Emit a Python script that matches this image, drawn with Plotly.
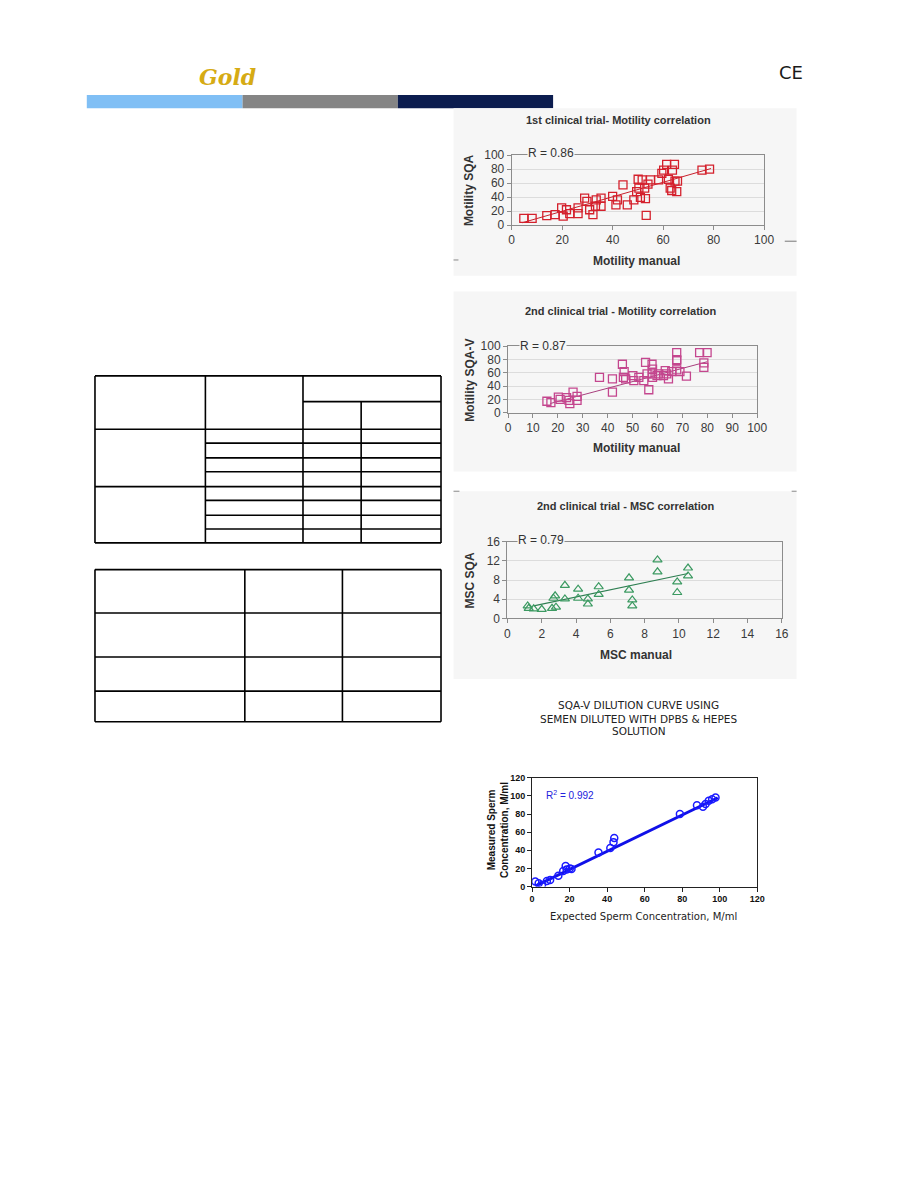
import plotly.graph_objects as go

W, H = 918, 1188

def fx(px):
    return px / W

def fy(py):
    return 1 - py / H

# ---------------- data ----------------
# Chart 1: 1st clinical trial - Motility correlation
c1_manual = [4.8, 8.1, 13.9, 17.2, 19.8, 20.4, 21.7, 23.0, 26.3, 26.3, 28.9, 29.8, 30.9, 32.2,
             33.2, 33.5, 35.4, 35.4, 40.0, 41.3, 41.9, 44.1, 45.8, 48.4, 49.5, 50.1, 50.4, 51.0,
             51.7, 52.7, 53.0, 53.3, 54.0, 55.0, 58.2, 59.5, 60.2, 61.4, 62.1, 62.8, 63.4, 63.7,
             64.5, 64.7, 65.4, 65.7, 75.4, 78.4]
c1_sqa = [9.5, 9.5, 13.7, 15, 24.6, 12.7, 22, 16.5, 24.6, 16.5, 38.7, 34, 22, 15,
          27, 36, 38.7, 27, 41, 29, 36, 57.6, 29, 36, 48, 65.6, 53, 39.6,
          64.6, 53, 37.8, 14, 58.5, 64.6, 64.6, 74, 78.8, 87, 65.6, 53, 49.5, 78.8,
          87, 63, 48, 63, 78.8, 80]
c1_trend_x = [4.2, 79.0]
c1_trend_y = [3.4, 81.0]

# Chart 2: 2nd clinical trial - Motility correlation
c2_manual = [15.6, 17.2, 20.2, 20.9, 23.5, 24.5, 24.8, 26.1, 27.7, 27.7, 36.7, 41.9, 41.9, 45.9,
             46.6, 46.3, 47.2, 50.1, 50.5, 52.5, 54.5, 55.2, 55.8, 56.5, 57.8, 58.0, 58.0, 57.8,
             59.8, 60.4, 62.4, 63.1, 63.7, 64.4, 65.7, 67.7, 67.7, 67.7, 67.7, 69.0, 71.6, 76.9,
             79.9, 78.6, 78.6]
c2_sqa = [17.4, 15.4, 23.7, 20.3, 22.8, 18.8, 14, 31, 24.8, 18.8, 53.4, 51, 31, 73,
          61.9, 53.4, 51, 56, 48.5, 53.4, 48.5, 75.7, 58.5, 34.7, 73, 65.6, 53.4, 58.5,
          56, 58.5, 56, 63.4, 58.5, 51, 61.9, 90.5, 80, 78.4, 64.4, 61.9, 55, 90.5,
          90.5, 68.2, 75]
c2_trend_x = [16.9, 79.9]
c2_trend_y = [14.0, 76.7]

# Chart 3: 2nd clinical trial - MSC correlation
c3_manual = [1.18, 1.24, 1.53, 2.0, 2.6, 2.68, 2.78, 2.83, 3.35, 3.35, 4.12, 4.12, 4.69, 4.69,
             5.32, 5.32, 7.09, 7.09, 7.28, 7.28, 8.75, 8.75, 9.9, 9.9, 10.53, 10.53]
c3_sqa = [2.6, 2.1, 2.0, 1.9, 2.1, 4.2, 4.7, 2.35, 6.9, 4.05, 6.1, 4.2, 4.05, 3.0,
          6.6, 5.0, 8.45, 5.9, 3.85, 2.6, 12.2, 9.7, 7.6, 5.4, 10.5, 8.85]
c3_trend_x = [1.53, 10.53]
c3_trend_y = [2.6, 9.35]

# Chart 4: SQA-V dilution curve
c4_expected = [1.7, 3.5, 5.3, 7.9, 9.6, 14.0, 16.6, 17.9, 18.4, 20.1, 21.0, 35.4, 41.7, 43.4,
               43.8, 78.8, 87.9, 91.1, 92.5, 94.2, 96.0, 97.8]
c4_measured = [5.5, 3.6, 1.8, 6.2, 7.3, 12.0, 17.1, 22.6, 18.9, 20.0, 19.3, 37.5, 42.5, 49.0,
               53.5, 80.0, 89.8, 88.0, 91.0, 94.6, 96.4, 98.2]
c4_trend_x = [1.7, 99.0]
c4_trend_y = [0.5, 98.0]

motility_ticks = [0, 20, 40, 60, 80, 100]
motility_ticks2 = [0, 10, 20, 30, 40, 50, 60, 70, 80, 90, 100]
msc_ticks = [0, 2, 4, 6, 8, 10, 12, 14, 16]
msc_yticks = [0, 4, 8, 12, 16]
conc_ticks = [0, 20, 40, 60, 80, 100, 120]

# ---------------- figure ----------------
fig = go.Figure()

# plot areas in page pixels: (left, right, top, bottom)
areas = {
    1: (516, 772, 150.0, 220.7),
    2: (512.3, 765, 343.3, 410.7),
    3: (511.7, 790, 541, 618.7),
    4: (536.7, 765, 780, 890),
}

def ax_names(i):
    return ("xaxis" if i == 1 else f"xaxis{i}", "yaxis" if i == 1 else f"yaxis{i}",
            "x" if i == 1 else f"x{i}", "y" if i == 1 else f"y{i}")

tickfont = dict(family="Liberation Sans, Arial, sans-serif", size=12, color="#3a3a3a")

def style_axes(i, xr, yr, xt, yt, grid=True, dark=False, tf=tickfont):
    xa, ya, xref, yref = ax_names(i)
    l, r, t, b = areas[i]
    lc = "#222222" if dark else "#8c8c8c"
    fig.update_layout(**{
        xa: dict(domain=[fx(l), fx(r)], range=xr, tickvals=xt, anchor=yref,
                 showline=True, mirror=True, linecolor=lc, linewidth=1,
                 ticks="outside", ticklen=4, tickcolor=lc, showgrid=False,
                 zeroline=False, tickfont=tf, fixedrange=True),
        ya: dict(domain=[fy(b), fy(t)], range=yr, tickvals=yt, anchor=xref,
                 showline=True, mirror=True, linecolor=lc, linewidth=1,
                 ticks="outside", ticklen=4, tickcolor=lc, showgrid=grid,
                 gridcolor="#dcdcdc", gridwidth=1,
                 zeroline=False, tickfont=tf, fixedrange=True),
    })

# chart 1
fig.add_trace(go.Scatter(x=c1_trend_x, y=c1_trend_y, mode="lines",
                         line=dict(color="#c8202c", width=1), xaxis="x", yaxis="y"))
fig.add_trace(go.Scatter(x=c1_manual, y=c1_sqa, mode="markers",
                         marker=dict(symbol="square-open", size=8, color="#d4202c",
                                     line=dict(width=1.3, color="#d4202c")),
                         xaxis="x", yaxis="y"))
style_axes(1, [0, 100], [0, 100], motility_ticks, motility_ticks)

# chart 2
fig.add_trace(go.Scatter(x=c2_trend_x, y=c2_trend_y, mode="lines",
                         line=dict(color="#a8407e", width=1), xaxis="x2", yaxis="y2"))
fig.add_trace(go.Scatter(x=c2_manual, y=c2_sqa, mode="markers",
                         marker=dict(symbol="square-open", size=8, color="#c4468e",
                                     line=dict(width=1.3, color="#c4468e")),
                         xaxis="x2", yaxis="y2"))
style_axes(2, [0, 100], [0, 100], motility_ticks2, motility_ticks)

# chart 3
fig.add_trace(go.Scatter(x=c3_trend_x, y=c3_trend_y, mode="lines",
                         line=dict(color="#2f7f52", width=1.2), xaxis="x3", yaxis="y3"))
fig.add_trace(go.Scatter(x=c3_manual, y=c3_sqa, mode="markers",
                         marker=dict(symbol="triangle-up-open", size=8, color="#3c9a62",
                                     line=dict(width=1.2, color="#3c9a62")),
                         xaxis="x3", yaxis="y3"))
style_axes(3, [0, 16], [0, 16], msc_ticks, msc_yticks)

# chart 4
fig.add_trace(go.Scatter(x=c4_trend_x, y=c4_trend_y, mode="lines",
                         line=dict(color="#1010e8", width=3), xaxis="x4", yaxis="y4"))
fig.add_trace(go.Scatter(x=c4_expected, y=c4_measured, mode="markers",
                         marker=dict(symbol="circle-open", size=7, color="#1a1aff",
                                     line=dict(width=1.5, color="#1a1aff")),
                         xaxis="x4", yaxis="y4"))
style_axes(4, [0, 120], [0, 120], conc_ticks, conc_ticks, grid=False, dark=True,
           tf=dict(family="Liberation Sans, Arial, sans-serif", size=9, color="#111111",
                   weight="bold"))

# ---------------- shapes ----------------
shapes = []

def rect(x0, y0, x1, y1, fill, layer="below", line=None):
    shapes.append(dict(type="rect", xref="paper", yref="paper",
                       x0=fx(x0), x1=fx(x1), y0=fy(y1), y1=fy(y0),
                       fillcolor=fill, line=line or dict(width=0), layer=layer))

def hline(x0, x1, y, w=1.6, color="#000000"):
    shapes.append(dict(type="line", xref="paper", yref="paper",
                       x0=fx(x0), x1=fx(x1), y0=fy(y), y1=fy(y),
                       line=dict(color=color, width=w), layer="above"))

def vline(x, y0, y1, w=1.6, color="#000000"):
    shapes.append(dict(type="line", xref="paper", yref="paper",
                       x0=fx(x), x1=fx(x), y0=fy(y0), y1=fy(y1),
                       line=dict(color=color, width=w), layer="above"))

# header bars
rect(85, 89, 243, 102.5, "#80bff5")
rect(243, 89, 400.5, 102.5, "#858585")
rect(400.5, 89, 558, 102.5, "#0c1d4f")

# chart image panels (light gray screenshots)
panel_bg = "#f6f6f6"
rect(457, 102.5, 805, 272, panel_bg)
rect(457, 288, 805, 470, panel_bg)
rect(457, 490, 805, 680, panel_bg)

# small stray marks at the panel edges
hline(793, 805, 237, w=1, color="#777777")
hline(457, 462, 256, w=1, color="#888888")
hline(457, 463, 490, w=1, color="#888888")
hline(800, 805, 490, w=1, color="#888888")

# table 1
T1L, T1R, T1T, T1B = 93.3, 444.3, 373.3, 542.3
c1x, c2x, c3x = 205.3, 304.3, 363.3
hline(T1L, T1R, T1T)
hline(T1L, T1R, T1B)
vline(T1L, T1T, T1B)
vline(T1R, T1T, T1B)
vline(c1x, T1T, T1B)
vline(c2x, T1T, T1B)
hline(c2x, T1R, 399.3)
vline(c3x, 399.3, T1B)
hline(T1L, T1R, 427.3)
for yy in [441.3, 456.3, 470.3, 499.3, 514.3, 528.3]:
    hline(c1x, T1R, yy)
hline(T1L, T1R, 485.3)

# table 2
T2L, T2R, T2T, T2B = 93.3, 444.3, 569.3, 723.3
hline(T2L, T2R, T2T)
hline(T2L, T2R, T2B)
vline(T2L, T2T, T2B)
vline(T2R, T2T, T2B)
vline(245.3, T2T, T2B)
vline(344.3, T2T, T2B)
for yy in [613.3, 657.7, 692.3]:
    hline(T2L, T2R, yy)

fig.update_layout(shapes=shapes)

# ---------------- annotations ----------------
ann = []

def text(px, py, s, size=12, color="#222222", bold=False, family="Liberation Sans, Arial, sans-serif",
         angle=0, xanchor="center", bg=None, italic=False):
    f = dict(family=family, size=size, color=color)
    if bold:
        f["weight"] = "bold"
    if italic:
        f["style"] = "italic"
    a = dict(x=fx(px), y=fy(py), xref="paper", yref="paper", text=s, showarrow=False,
             font=f, textangle=angle, xanchor=xanchor, yanchor="middle")
    if bg:
        a["bgcolor"] = bg
        a["borderpad"] = 0
    ann.append(a)

# header
text(228, 71, "Gold", size=22, color="#d6ab14", family="DejaVu Serif", bold=True, italic=True)
text(799, 66, "CE", size=18, color="#1a1a1a", family="DejaVu Sans", xanchor="center")

# chart 1
text(624, 114, "1st clinical trial- Motility correlation", size=11, bold=True, color="#333333")
text(556, 148, "R = 0.86", size=12, color="#333333", bg=panel_bg)
text(473, 185, "Motility SQA", size=12, bold=True, angle=-90, color="#333333")
text(643, 257, "Motility manual", size=12, bold=True, color="#333333")

# chart 2
text(627, 308, "2nd clinical trial - Motility correlation", size=11, bold=True, color="#333333")
text(548, 343, "R = 0.87", size=12, color="#333333", bg=panel_bg)
text(473, 378, "Motility SQA-V", size=12, bold=True, angle=-90, color="#333333")
text(643, 446, "Motility manual", size=12, bold=True, color="#333333")

# chart 3
text(632, 505, "2nd clinical trial - MSC correlation", size=11, bold=True, color="#333333")
text(546, 539, "R = 0.79", size=12, color="#333333", bg=panel_bg)
text(474, 580, "MSC SQA", size=12, bold=True, angle=-90, color="#333333")
text(642, 656, "MSC manual", size=12, bold=True, color="#333333")

# chart 4
text(645, 706, "SQA-V DILUTION CURVE USING", size=10.5, color="#222222", family="DejaVu Sans")
text(645, 720, "SEMEN DILUTED WITH DPBS &amp; HEPES", size=10.5, color="#222222", family="DejaVu Sans")
text(645, 733, "SOLUTION", size=10.5, color="#222222", family="DejaVu Sans")
text(575, 797, "R<sup>2</sup> = 0.992", size=10, color="#2222dd")
text(502, 833, "Measured Sperm<br>Concentration, M/ml", size=10, bold=True, angle=-90, color="#111111")
text(650, 920, "Expected Sperm Concentration, M/ml", size=10, color="#222222", family="DejaVu Sans")

fig.update_layout(annotations=ann)

fig.update_layout(width=W, height=H, margin=dict(l=0, r=0, t=0, b=0),
                  paper_bgcolor="#ffffff", plot_bgcolor="rgba(0,0,0,0)",
                  showlegend=False)

fig.write_html("out.html", include_plotlyjs=True, config={"displayModeBar": False})
